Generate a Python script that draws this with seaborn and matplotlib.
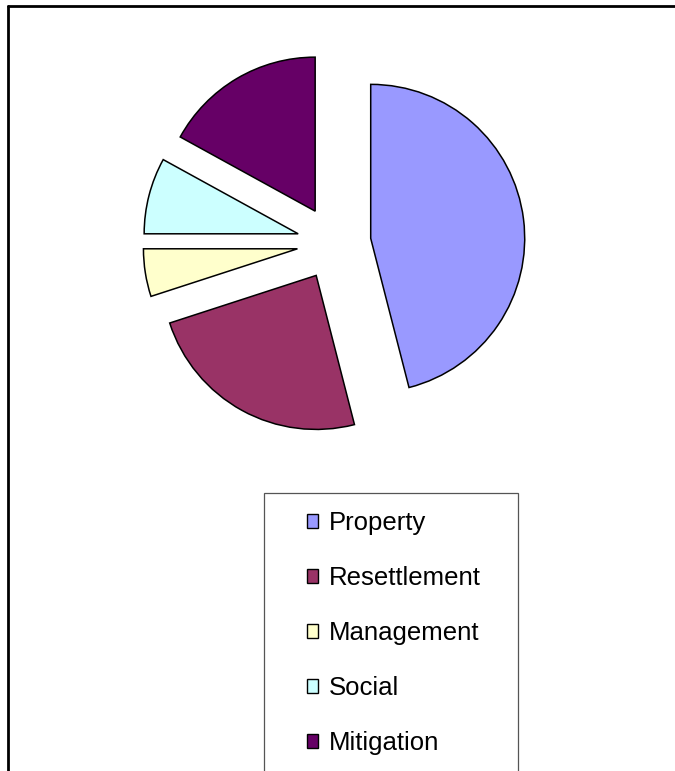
import matplotlib
matplotlib.use("Agg")
import matplotlib.pyplot as plt
import seaborn as sns
from matplotlib.patches import Patch, Rectangle
from matplotlib.lines import Line2D

categories = ["Property", "Resettlement", "Management", "Social", "Mitigation"]
values = [46, 24, 5, 8, 17]
colors = ["#9999FF", "#993366", "#FFFFCC", "#CCFFFF", "#660066"]

sns.set_theme(style="white")
plt.rcParams["font.family"] = ["Liberation Sans", "DejaVu Sans"]
plt.rcParams["text.color"] = "black"

W, H = 675, 771
fig = plt.figure(figsize=(W / 100, H / 100), dpi=100)
ax = fig.add_axes([0, 0, 1, 1])

cx, cy, r = 334, H - 243, 154
expl = 37
ax.pie(values, colors=colors, startangle=90, counterclock=False,
       center=(cx, cy), radius=r, explode=[expl] * len(values),
       wedgeprops=dict(edgecolor="black", linewidth=1.1), frame=True)

ax.set_xlim(0, W)
ax.set_ylim(0, H)
ax.set_aspect("auto")
ax.axis("off")

# legend box (cut off at bottom)
ax.add_patch(Rectangle((264, -5), 518 - 264, H - 493 + 5, fill=False,
                       edgecolor="#555555", linewidth=0.9))

handles = [Patch(facecolor=c, edgecolor="black", linewidth=1.0) for c in colors]
leg = ax.legend(handles, categories, loc="upper left", bbox_to_anchor=(307, H - 511),
                bbox_transform=ax.transData, frameon=False, fontsize=18.5,
                handlelength=0.43, handleheight=0.43, handletextpad=0.42,
                labelspacing=1.21, borderpad=0, borderaxespad=0)
for t in leg.get_texts():
    t.set_color("black")

# outer border (top and left edges visible)
fig.add_artist(Line2D([8 / W, 1], [1 - 6 / H, 1 - 6 / H], color="black", linewidth=2,
                      transform=fig.transFigure))
fig.add_artist(Line2D([8 / W, 8 / W], [0, 1 - 6 / H], color="black", linewidth=2,
                      transform=fig.transFigure))

fig.savefig("out.png", dpi=100)
